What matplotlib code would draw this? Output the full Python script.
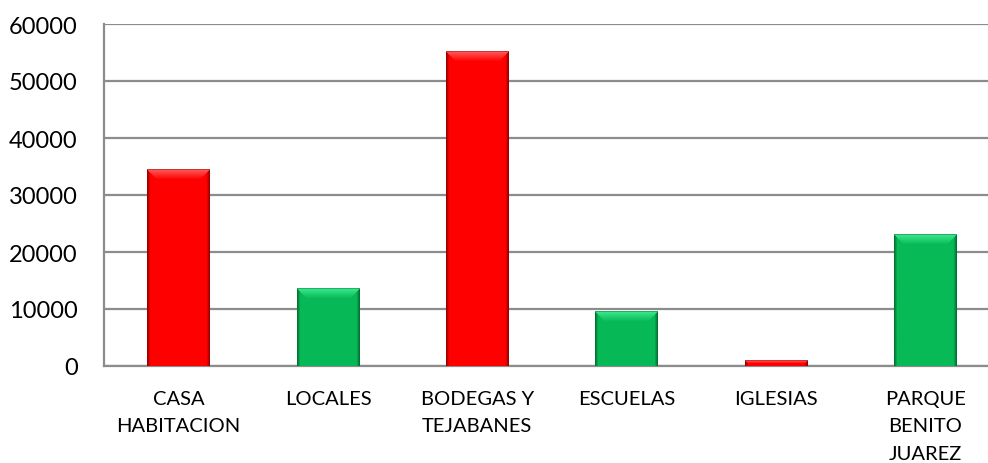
import numpy as np
import matplotlib
matplotlib.use("Agg")
import matplotlib.pyplot as plt
from matplotlib.colors import to_rgb

# data
categories = ["CASA\nHABITACION", "LOCALES", "BODEGAS Y\nTEJABANES", "ESCUELAS", "IGLESIAS",
              "PARQUE\nBENITO\nJUAREZ"]
values = [34400, 13600, 55200, 9600, 1050, 23000]
bar_colors = ["#FF0000", "#07BA56", "#FF0000", "#07BA56", "#FF0000", "#07BA56"]
light_colors = {"#FF0000": "#FF6A6A", "#07BA56": "#45F098"}
dark_colors = {"#FF0000": "#7A0000", "#07BA56": "#035A2A"}
y_ticks = [0, 10000, 20000, 30000, 40000, 50000, 60000]

plt.rcParams["font.family"] = ["Lato", "DejaVu Sans"]

fig = plt.figure(figsize=(9.88, 4.64), dpi=100)
ax = fig.add_axes([104 / 988, 97 / 464, 896 / 988, 342 / 464])

x = np.arange(len(categories))
bar_w = 0.42
bars = ax.bar(x, values, width=bar_w, color=bar_colors, zorder=3, linewidth=0)


def bevel_image(w_px, h_px, base, light, dark, b=10):
    base, light, dark = np.array(to_rgb(base)), np.array(to_rgb(light)), np.array(to_rgb(dark))
    img = np.tile(base, (h_px, w_px, 1))
    xs = np.arange(w_px)
    # darker edges left/right
    edge = np.minimum(xs, w_px - 1 - xs)
    k = np.clip(1 - edge / 3.0, 0, 1)[None, :, None] * 0.75
    img = img * (1 - k) + dark * k
    b = int(min(b, h_px // 2))
    for r in range(b):
        lo, hi = r, w_px - r
        t = 0.85 * (1 - r / max(b, 1))
        seg = img[r, lo:hi]
        img[r, lo:hi] = seg * (1 - t) + light * t
    img[0, :] = img[0, :] * 0.6 + dark * 0.4
    return img


px_per_unit = 342 / 60000
px_per_cat = 896 / 6
for rect, c in zip(bars, bar_colors):
    h_px = max(int(round(rect.get_height() * px_per_unit)), 2)
    w_px = int(round(rect.get_width() * px_per_cat))
    img = bevel_image(w_px, h_px, c, light_colors[c], dark_colors[c])
    x0 = rect.get_x()
    ax.imshow(img, extent=(x0, x0 + rect.get_width(), 0, rect.get_height()),
              aspect="auto", interpolation="bilinear", zorder=4)

ax.set_xlim(-0.5, len(categories) - 0.5)
ax.set_ylim(0, 60000)
ax.set_yticks(y_ticks)
ax.set_yticklabels([str(v) for v in y_ticks])
ax.set_xticks(x)
ax.set_xticklabels(categories, linespacing=1.75)

ax.grid(axis="y", color="#8C8C8C", linewidth=1.6, zorder=0)
ax.set_axisbelow(True)
for s in ["top", "right"]:
    ax.spines[s].set_visible(False)
for s in ["left", "bottom"]:
    ax.spines[s].set_color("#8C8C8C")
    ax.spines[s].set_linewidth(1.6)

ax.tick_params(axis="y", length=0, pad=19, labelsize=17, labelcolor="black")
ax.tick_params(axis="x", length=0, pad=17, labelsize=14.5, labelcolor="black")

fig.savefig("out.png", dpi=100)
